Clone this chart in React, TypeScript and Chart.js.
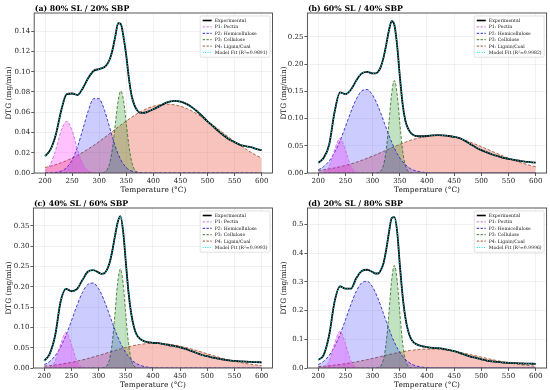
import React, { useEffect, useRef } from "react";
import { Chart, registerables } from "chart.js";
Chart.register(...registerables);

const FONT = "'DejaVu Serif', 'Liberation Serif', serif";

// Temperature grid (°C)
const temps = [
  200, 210, 220, 230, 240, 250, 260, 270, 280, 290, 300,
  305, 310, 315, 320, 325, 330, 335, 340, 345, 350, 355, 360, 365, 370, 375, 380,
  390, 400, 410, 420, 430, 440, 450, 460, 470, 480, 490, 500, 510, 520, 530, 540, 550, 560, 570, 580, 590, 600,
];
const xTicks = [200, 250, 300, 350, 400, 450, 500, 550, 600];

// ---------- (a) 80% SL / 20% SBP ----------
const expA = [
  0.0166, 0.023, 0.038, 0.062, 0.078, 0.0785, 0.077, 0.084, 0.094, 0.101, 0.1026,
  0.1036, 0.1046, 0.1076, 0.113, 0.1225, 0.1357, 0.148, 0.147, 0.134, 0.116, 0.093, 0.076, 0.067, 0.062, 0.0596, 0.0593,
  0.0606, 0.063, 0.0655, 0.0685, 0.0705, 0.0712, 0.0705, 0.0685, 0.0655, 0.0612, 0.0563, 0.051, 0.0463, 0.0414, 0.037, 0.0331, 0.0305, 0.0278, 0.0265, 0.0255, 0.0238, 0.0225,
];
const p1A = [
  0.0022, 0.0088, 0.0234, 0.042, 0.051, 0.042, 0.0234, 0.0088, 0.0022, 0.0004, 0,
  0, 0, 0, 0, 0, 0, 0, 0, 0, 0, 0, 0, 0, 0, 0, 0,
  0, 0, 0, 0, 0, 0, 0, 0, 0, 0, 0, 0, 0, 0, 0, 0, 0, 0, 0, 0, 0, 0,
];
const p2A = [
  0, 0.0001, 0.0006, 0.0019, 0.0054, 0.0129, 0.0259, 0.0436, 0.0617, 0.0734, 0.0734,
  0.0688, 0.0617, 0.053, 0.0436, 0.0343, 0.0259, 0.0187, 0.0129, 0.0086, 0.0054, 0.0033, 0.0019, 0.0011, 0.0006, 0.0003, 0.0001,
  0, 0, 0, 0, 0, 0, 0, 0, 0, 0, 0, 0, 0, 0, 0, 0, 0, 0, 0, 0, 0, 0,
];
const p3A = [
  0, 0, 0, 0, 0, 0, 0, 0, 0, 0, 0,
  0.0002, 0.0009, 0.0036, 0.011, 0.0263, 0.0491, 0.0715, 0.081, 0.0715, 0.0491, 0.0263, 0.011, 0.0036, 0.0009, 0.0002, 0,
  0, 0, 0, 0, 0, 0, 0, 0, 0, 0, 0, 0, 0, 0, 0, 0, 0, 0, 0, 0, 0, 0,
];
const p4A = [
  0.0054, 0.0067, 0.0083, 0.0102, 0.0123, 0.0147, 0.0174, 0.0205, 0.0238, 0.0273, 0.0311,
  0.0331, 0.0351, 0.0371, 0.0392, 0.0412, 0.0433, 0.0454, 0.0474, 0.0494, 0.0513, 0.0532, 0.0551, 0.0568, 0.0585, 0.06, 0.0615,
  0.064, 0.0659, 0.0672, 0.0679, 0.0679, 0.0672, 0.0659, 0.064, 0.0615, 0.0585, 0.0551, 0.0513, 0.0474, 0.0433, 0.0392, 0.0351, 0.0311, 0.0273, 0.0238, 0.0205, 0.0174, 0.0147,
];

// ---------- (b) 60% SL / 40% SBP ----------
const expB = [
  0.0185, 0.028, 0.052, 0.112, 0.148, 0.145, 0.153, 0.17, 0.183, 0.186, 0.183,
  0.183, 0.186, 0.195, 0.212, 0.236, 0.262, 0.279, 0.272, 0.235, 0.178, 0.128, 0.097, 0.082, 0.074, 0.07, 0.068,
  0.0675, 0.068, 0.069, 0.0695, 0.069, 0.068, 0.0665, 0.064, 0.059, 0.053, 0.047, 0.042, 0.038, 0.034, 0.031, 0.028, 0.026, 0.024, 0.0225, 0.021, 0.02, 0.019,
];
const p1B = [
  0.0001, 0.0016, 0.0123, 0.0423, 0.064, 0.0423, 0.0123, 0.0016, 0.0001, 0, 0,
  0, 0, 0, 0, 0, 0, 0, 0, 0, 0, 0, 0, 0, 0, 0, 0,
  0, 0, 0, 0, 0, 0, 0, 0, 0, 0, 0, 0, 0, 0, 0, 0, 0, 0, 0, 0, 0, 0,
];
const p2B = [
  0.0058, 0.0119, 0.0221, 0.0378, 0.0592, 0.0852, 0.1124, 0.1359, 0.1508, 0.1534, 0.1431,
  0.1339, 0.1225, 0.1097, 0.0962, 0.0825, 0.0692, 0.0568, 0.0457, 0.0359, 0.0277, 0.0208, 0.0154, 0.0111, 0.0078, 0.0054, 0.0037,
  0.0016, 0.0006, 0.0002, 0, 0, 0, 0, 0, 0, 0, 0, 0, 0, 0, 0, 0, 0, 0, 0, 0, 0, 0,
];
const p3B = [
  0, 0, 0, 0, 0, 0, 0, 0, 0, 0, 0,
  0.0001, 0.0007, 0.0036, 0.0144, 0.0424, 0.0917, 0.1457, 0.17, 0.1457, 0.0917, 0.0424, 0.0144, 0.0036, 0.0007, 0.0001, 0,
  0, 0, 0, 0, 0, 0, 0, 0, 0, 0, 0, 0, 0, 0, 0, 0, 0, 0, 0, 0, 0, 0,
];
const p4B = [
  0.0047, 0.006, 0.0075, 0.0093, 0.0115, 0.0139, 0.0167, 0.0198, 0.0233, 0.0271, 0.0311,
  0.0332, 0.0353, 0.0375, 0.0397, 0.0418, 0.044, 0.0462, 0.0484, 0.0505, 0.0526, 0.0546, 0.0565, 0.0584, 0.0601, 0.0617, 0.0631,
  0.0656, 0.0675, 0.0686, 0.069, 0.0686, 0.0675, 0.0656, 0.0631, 0.0601, 0.0565, 0.0526, 0.0484, 0.044, 0.0397, 0.0353, 0.0311, 0.0271, 0.0233, 0.0198, 0.0167, 0.0139, 0.0115,
];

// ---------- (c) 40% SL / 60% SBP ----------
const expC = [
  0.018, 0.035, 0.08, 0.163, 0.195, 0.189, 0.194, 0.216, 0.237, 0.241, 0.235,
  0.232, 0.233, 0.241, 0.258, 0.287, 0.324, 0.358, 0.374, 0.338, 0.262, 0.187, 0.134, 0.101, 0.082, 0.0735, 0.0685,
  0.0636, 0.062, 0.061, 0.0586, 0.056, 0.0537, 0.051, 0.047, 0.042, 0.037, 0.032, 0.029, 0.0256, 0.023, 0.0206, 0.019, 0.0173, 0.0165, 0.0157, 0.0149, 0.0145, 0.014,
];
const p1C = [
  0.0001, 0.0021, 0.0169, 0.0582, 0.088, 0.0582, 0.0169, 0.0021, 0.0001, 0, 0,
  0, 0, 0, 0, 0, 0, 0, 0, 0, 0, 0, 0, 0, 0, 0, 0,
  0, 0, 0, 0, 0, 0, 0, 0, 0, 0, 0, 0, 0, 0, 0, 0, 0, 0, 0, 0, 0, 0,
];
const p2C = [
  0.008, 0.0162, 0.0301, 0.0515, 0.0808, 0.1162, 0.1532, 0.1853, 0.2056, 0.2092, 0.1952,
  0.1825, 0.1671, 0.1496, 0.1311, 0.1125, 0.0944, 0.0775, 0.0623, 0.049, 0.0377, 0.0284, 0.021, 0.0151, 0.0107, 0.0074, 0.005,
  0.0021, 0.0008, 0.0003, 0, 0, 0, 0, 0, 0, 0, 0, 0, 0, 0, 0, 0, 0, 0, 0, 0, 0, 0,
];
const p3C = [
  0, 0, 0, 0, 0, 0, 0, 0, 0, 0, 0,
  0.0001, 0.001, 0.0051, 0.0207, 0.0609, 0.1316, 0.2091, 0.244, 0.2091, 0.1316, 0.0609, 0.0207, 0.0051, 0.001, 0.0001, 0,
  0, 0, 0, 0, 0, 0, 0, 0, 0, 0, 0, 0, 0, 0, 0, 0, 0, 0, 0, 0, 0, 0,
];
const p4C = [
  0.0046, 0.0058, 0.0074, 0.0092, 0.0114, 0.0138, 0.0167, 0.0198, 0.0233, 0.027, 0.0309,
  0.0329, 0.0349, 0.037, 0.0391, 0.0411, 0.0431, 0.0451, 0.047, 0.0488, 0.0506, 0.0523, 0.0538, 0.0553, 0.0566, 0.0577, 0.0587,
  0.0602, 0.0609, 0.0609, 0.0602, 0.0587, 0.0566, 0.0538, 0.0506, 0.047, 0.0431, 0.0391, 0.0349, 0.0309, 0.027, 0.0233, 0.0198, 0.0167, 0.0138, 0.0114, 0.0092, 0.0074, 0.0058,
];

// ---------- (d) 20% SL / 80% SBP ----------
const expD = [
  0.028, 0.046, 0.114, 0.231, 0.284, 0.276, 0.276, 0.313, 0.338, 0.342, 0.334,
  0.329, 0.329, 0.341, 0.365, 0.412, 0.471, 0.522, 0.525, 0.477, 0.36, 0.254, 0.178, 0.131, 0.104, 0.09, 0.083,
  0.076, 0.0726, 0.07, 0.069, 0.0667, 0.063, 0.0585, 0.0527, 0.0457, 0.04, 0.035, 0.03, 0.026, 0.023, 0.021, 0.019, 0.018, 0.017, 0.016, 0.0155, 0.015, 0.0145,
];
const p1D = [
  0.0002, 0.0031, 0.0245, 0.0847, 0.128, 0.0847, 0.0245, 0.0031, 0.0002, 0, 0,
  0, 0, 0, 0, 0, 0, 0, 0, 0, 0, 0, 0, 0, 0, 0, 0,
  0, 0, 0, 0, 0, 0, 0, 0, 0, 0, 0, 0, 0, 0, 0, 0, 0, 0, 0, 0, 0, 0,
];
const p2D = [
  0.0115, 0.0233, 0.0435, 0.0743, 0.1165, 0.1676, 0.2211, 0.2674, 0.2966, 0.3018, 0.2816,
  0.2634, 0.241, 0.2159, 0.1892, 0.1623, 0.1362, 0.1118, 0.0899, 0.0707, 0.0544, 0.041, 0.0302, 0.0218, 0.0154, 0.0106, 0.0072,
  0.0031, 0.0012, 0.0004, 0, 0, 0, 0, 0, 0, 0, 0, 0, 0, 0, 0, 0, 0, 0, 0, 0, 0, 0,
];
const p3D = [
  0, 0, 0, 0, 0, 0, 0, 0, 0, 0, 0,
  0.0002, 0.0014, 0.0075, 0.0302, 0.089, 0.1926, 0.306, 0.357, 0.306, 0.1926, 0.089, 0.0302, 0.0075, 0.0014, 0.0002, 0,
  0, 0, 0, 0, 0, 0, 0, 0, 0, 0, 0, 0, 0, 0, 0, 0, 0, 0, 0, 0, 0, 0,
];
const p4D = [
  0.0049, 0.0063, 0.008, 0.01, 0.0123, 0.015, 0.018, 0.0214, 0.0252, 0.0292, 0.0334,
  0.0356, 0.0378, 0.04, 0.0423, 0.0445, 0.0466, 0.0488, 0.0508, 0.0528, 0.0548, 0.0566, 0.0582, 0.0598, 0.0612, 0.0624, 0.0635,
  0.0651, 0.0659, 0.0659, 0.0651, 0.0635, 0.0612, 0.0582, 0.0548, 0.0508, 0.0466, 0.0423, 0.0378, 0.0334, 0.0292, 0.0252, 0.0214, 0.018, 0.015, 0.0123, 0.01, 0.008, 0.0063,
];

// Y tick labels
const yTicksA = [0, 0.02, 0.04, 0.06, 0.08, 0.1, 0.12, 0.14];
const yTicksB = [0, 0.05, 0.1, 0.15, 0.2, 0.25];
const yTicksC = [0, 0.05, 0.1, 0.15, 0.2, 0.25, 0.3, 0.35];
const yTicksD = [0, 0.1, 0.2, 0.3, 0.4, 0.5];

const panelTitles = [
  "(a) 80% SL / 20% SBP",
  "(b) 60% SL / 40% SBP",
  "(c) 40% SL / 60% SBP",
  "(d) 20% SL / 80% SBP",
];
const r2Values = ["0.9891", "0.9982", "0.9993", "0.9996"];
const componentLabels = ["P1: Pectin", "P2: Hemicellulose", "P3: Cellulose", "P4: Lignin/Coal"];

const panels = [
  { exp: expA, p: [p1A, p2A, p3A, p4A], yTicks: yTicksA, yMax: 0.158, dec: 2, yw: 34.2, rp: 2.5 },
  { exp: expB, p: [p1B, p2B, p3B, p4B], yTicks: yTicksB, yMax: 0.294, dec: 2, yw: 32.4, rp: 3.4 },
  { exp: expC, p: [p1C, p2C, p3C, p4C], yTicks: yTicksC, yMax: 0.394, dec: 2, yw: 33.4, rp: 2.5 },
  { exp: expD, p: [p1D, p2D, p3D, p4D], yTicks: yTicksD, yMax: 0.557, dec: 1, yw: 32.4, rp: 3.4 },
];

const lineColors = ["#c86ee0", "#2a2ac8", "#3d7a2e", "#9a5a3a"];
const fillColors = [
  "rgba(255,0,255,0.24)",
  "rgba(0,0,255,0.2)",
  "rgba(0,140,0,0.24)",
  "rgba(235,90,70,0.36)",
];
const FIT_COLOR = "rgba(0,225,235,0.95)";

function Panel({ idx, left, top }: { idx: number; left: number; top: number }) {
  const ref = useRef<HTMLCanvasElement | null>(null);
  useEffect(() => {
    const cfg = panels[idx];
    const pts = (v: number[]) => temps.map((t, i) => ({ x: t, y: v[i] }));

    const titlePlugin = {
      id: "panelTitle",
      afterDraw(chart: any) {
        const { ctx, chartArea } = chart;
        ctx.save();
        ctx.font = `bold 7.8px ${FONT}`;
        ctx.fillStyle = "#000";
        ctx.textAlign = "left";
        ctx.textBaseline = "alphabetic";
        ctx.fillText(panelTitles[idx], chartArea.left + 0.5, 11.3);
        ctx.restore();
      },
    };

    const framePlugin = {
      id: "frame",
      afterDatasetsDraw(chart: any) {
        const { ctx, chartArea: a } = chart;
        ctx.save();
        ctx.strokeStyle = "#444";
        ctx.lineWidth = 0.9;
        ctx.strokeRect(a.left, a.top, a.right - a.left, a.bottom - a.top);
        ctx.restore();
      },
    };

    const entries = [
      { label: "Experimental", color: "#000", width: 1.6, dash: [] as number[] },
      ...componentLabels.map((l, i) => ({ label: l, color: lineColors[i], width: 1, dash: [2.4, 1.4] })),
      { label: `Model Fit (R²=${r2Values[idx]})`, color: FIT_COLOR, width: 1.1, dash: [1, 1.4] },
    ];

    const legendPlugin = {
      id: "panelLegend",
      afterDraw(chart: any) {
        const { ctx, chartArea: a } = chart;
        const fs = 4.6;
        ctx.save();
        ctx.font = `${fs}px ${FONT}`;
        let tw = 0;
        entries.forEach((e) => (tw = Math.max(tw, ctx.measureText(e.label).width)));
        const w = 14.5 + tw + 2.5;
        const rowH = 6.4;
        const h = rowH * entries.length + 2.8;
        const x0 = a.right - 2.5 - w;
        const y0 = a.top + 3;
        ctx.fillStyle = "rgba(255,255,255,0.85)";
        ctx.strokeStyle = "#cccccc";
        ctx.lineWidth = 0.6;
        ctx.beginPath();
        if ((ctx as any).roundRect) (ctx as any).roundRect(x0, y0, w, h, 1.2);
        else ctx.rect(x0, y0, w, h);
        ctx.fill();
        ctx.stroke();
        entries.forEach((e, i) => {
          const cy = y0 + 4.5 + i * rowH;
          ctx.beginPath();
          ctx.strokeStyle = e.color;
          ctx.lineWidth = e.width;
          ctx.setLineDash(e.dash);
          ctx.moveTo(x0 + 2.5, cy);
          ctx.lineTo(x0 + 11.5, cy);
          ctx.stroke();
          ctx.setLineDash([]);
          ctx.fillStyle = "#111";
          ctx.textAlign = "left";
          ctx.textBaseline = "middle";
          ctx.fillText(e.label, x0 + 14.5, cy + 0.2);
        });
        ctx.restore();
      },
    };

    const common = { pointRadius: 0, cubicInterpolationMode: "monotone" as const };
    const datasets: any[] = [
      { ...common, label: "Model Fit", data: pts(cfg.exp), borderColor: FIT_COLOR, borderWidth: 1.1, borderDash: [1, 1.6], fill: false },
      { ...common, label: "Experimental", data: pts(cfg.exp), borderColor: "#000", borderWidth: 1.8, fill: false },
      ...cfg.p.map((vals, i) => ({
        ...common,
        label: componentLabels[i],
        data: pts(vals),
        borderColor: lineColors[i],
        borderWidth: 0.9,
        borderDash: [3, 1.8],
        fill: "origin",
        backgroundColor: fillColors[i],
      })),
    ];

    const chart = new Chart(ref.current as HTMLCanvasElement, {
      type: "line",
      data: { datasets },
      options: {
        animation: false,
        responsive: false,
        maintainAspectRatio: false,
        events: [],
        layout: { padding: { left: 0, right: cfg.rp, top: 13, bottom: 0 } },
        plugins: { legend: { display: false }, tooltip: { enabled: false }, title: { display: false } },
        scales: {
          x: {
            type: "linear",
            min: 180,
            max: 620,
            afterBuildTicks: (s: any) => {
              s.ticks = xTicks.map((v) => ({ value: v }));
            },
            afterFit: (s: any) => {
              s.height = 22;
            },
            grid: { color: "rgba(0,0,0,0.09)", lineWidth: 0.6, tickColor: "#333", tickLength: 3, tickWidth: 0.8 },
            border: { display: false },
            ticks: { font: { family: FONT, size: 7 }, color: "#222", padding: 1, maxRotation: 0, autoSkip: false },
            title: { display: true, text: "Temperature (°C)", font: { family: FONT, size: 7.4 }, color: "#111", padding: { top: 0, bottom: 0.4 } },
          },
          y: {
            type: "linear",
            min: 0,
            max: cfg.yMax,
            afterBuildTicks: (s: any) => {
              s.ticks = cfg.yTicks.map((v) => ({ value: v }));
            },
            afterFit: (s: any) => {
              s.width = cfg.yw;
            },
            grid: { color: "rgba(0,0,0,0.09)", lineWidth: 0.6, tickColor: "#333", tickLength: 3, tickWidth: 0.8 },
            border: { display: false },
            ticks: {
              font: { family: FONT, size: 7 },
              color: "#222",
              padding: 1,
              autoSkip: false,
              callback: (v: any) => Number(v).toFixed(cfg.dec),
            },
            title: { display: true, text: "DTG (mg/min)", font: { family: FONT, size: 7.4 }, color: "#111", padding: { top: 5, bottom: 0 } },
          },
        },
      } as any,
      plugins: [framePlugin, legendPlugin, titlePlugin],
    });
    return () => chart.destroy();
  }, [idx]);
  return (
    <canvas
      ref={ref}
      width={275}
      height={195}
      style={{ position: "absolute", left, top, width: 275, height: 195, display: "block" }}
    />
  );
}

export default function App() {
  return (
    <div style={{ position: "absolute", left: 0, top: 0, width: 550, height: 390, background: "#fff" }}>
      {panels.map((_, i) => (
        <Panel key={i} idx={i} left={(i % 2) * 275} top={Math.floor(i / 2) * 195} />
      ))}
    </div>
  );
}
